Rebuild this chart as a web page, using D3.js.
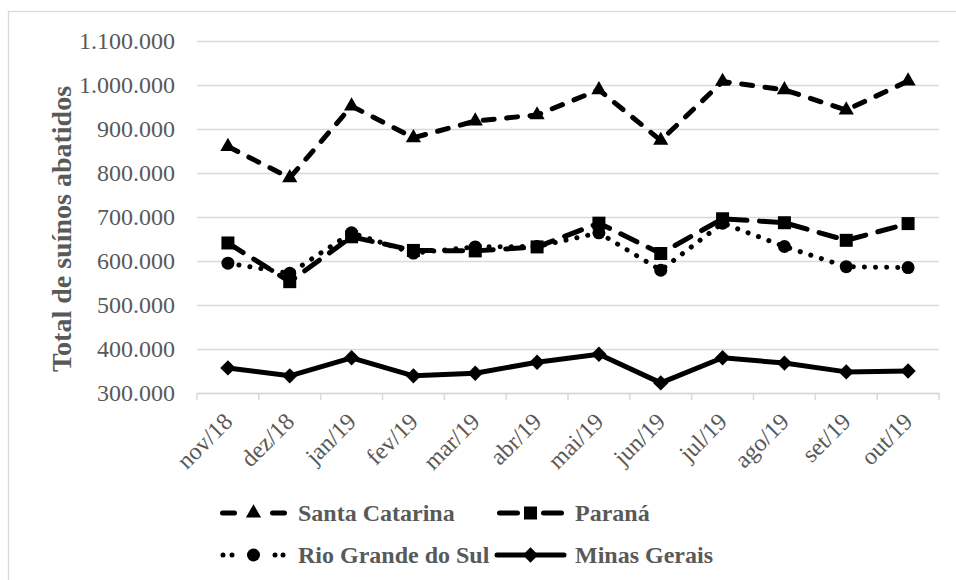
<!DOCTYPE html>
<html>
<head>
<meta charset="utf-8">
<script src="https://cdn.jsdelivr.net/npm/d3@7"></script>
<style>
  html, body { margin: 0; padding: 0; background: #fff; }
  svg { display: block; }
</style>
</head>
<body>
<svg id="chart" width="956" height="580"></svg>
<script>
// Monthly pig slaughter by state (head)
const months = ["nov/18", "dez/18", "jan/19", "fev/19", "mar/19", "abr/19",
                "mai/19", "jun/19", "jul/19", "ago/19", "set/19", "out/19"];

const santaCatarina = [860000, 789000, 952000, 880000, 918000, 932000,
                       989000, 874000, 1008000, 989000, 943000, 1009000];
const parana        = [641000, 553000, 655000, 624000, 623000, 632000,
                       686000, 617000, 696000, 687000, 647000, 685000];
const rioGrande     = [595000, 572000, 664000, 618000, 632000, 633000,
                       664000, 579000, 686000, 633000, 587000, 585000];
const minasGerais   = [357000, 339000, 380000, 339000, 345000, 370000,
                       388000, 323000, 380000, 368000, 348000, 350000];

const yTicks = [300000, 400000, 500000, 600000, 700000, 800000, 900000, 1000000, 1100000];
const yTitle = "Total de suínos abatidos";

const serifFont = "'Liberation Serif', Tinos, 'Times New Roman', Times, 'Nimbus Roman', 'Nimbus Roman No9 L', 'Noto Serif', FreeSerif, 'DejaVu Serif', serif";

// Rotated-square marker
const diamondSquare = {
  draw(ctx, size) {
    const r = Math.sqrt(size / 2);
    ctx.moveTo(0, -r); ctx.lineTo(r, 0); ctx.lineTo(0, r); ctx.lineTo(-r, 0); ctx.closePath();
  }
};

const series = [
  { name: "Santa Catarina",    values: santaCatarina, dash: "11,12.5", legendDash: "12,38,12,200", legendFrom: 2.5,
    symbol: d3.symbolTriangle, size: 100 },
  { name: "Paraná",            values: parana,        dash: "18,12.5", legendDash: "18,26,18,200", legendFrom: 2.5,
    symbol: d3.symbolSquare,   size: 169 },
  { name: "Rio Grande do Sul", values: rioGrande,     dash: "0.1,11",  legendDash: "0.01,9,0.01,43,0.01,8,0.01,200", legendFrom: 3,
    symbol: d3.symbolCircle,   size: 133 },
  { name: "Minas Gerais",      values: minasGerais,   dash: null,      legendDash: null, legendFrom: 0,
    symbol: diamondSquare,     size: 118 }
];

const svg = d3.select("#chart");
const plot = { left: 197, right: 939, top: 41, bottom: 393 };
const grey = "#595959";
const gridColor = "#d9d9d9";

// Outer chart frame
svg.append("rect")
  .attr("x", 8.5).attr("y", 11.5)
  .attr("width", 1000).attr("height", 700)
  .attr("fill", "#fff").attr("stroke", gridColor).attr("stroke-width", 1.3);

const x = d3.scaleBand().domain(months).range([plot.left, plot.right]).padding(0);
const y = d3.scaleLinear().domain([300000, 1100000]).range([plot.bottom, plot.top]);

const ptBR = d3.formatLocale({ decimal: ",", thousands: ".", grouping: [3], currency: ["R$", ""] });
const fmt = ptBR.format(",d");

// Y axis with horizontal gridlines
const yAxis = svg.append("g")
  .attr("transform", `translate(${plot.left},0)`)
  .call(d3.axisLeft(y).tickValues(yTicks).tickFormat(fmt)
        .tickSize(-(plot.right - plot.left)).tickPadding(22))
  .attr("font-family", serifFont).attr("font-size", 24);
yAxis.select(".domain").remove();
yAxis.selectAll(".tick line").attr("stroke", gridColor).attr("stroke-width", 1.5);
yAxis.selectAll(".tick text").attr("fill", grey);

// X axis: baseline, boundary ticks and rotated labels
const xAxis = svg.append("g")
  .attr("transform", `translate(0,${plot.bottom})`)
  .call(d3.axisBottom(x).tickSize(0).tickPadding(0))
  .attr("font-family", serifFont).attr("font-size", 24);
xAxis.select(".domain").attr("stroke", gridColor).attr("stroke-width", 1.5);
xAxis.selectAll(".tick text")
  .attr("fill", grey)
  .attr("text-anchor", "end")
  .attr("dy", null).attr("y", null)
  .attr("transform", "translate(6,30) rotate(-45)");

const bounds = months.map(m => x(m)).concat([x(months[months.length - 1]) + x.bandwidth()]);
xAxis.selectAll(".bound").data(bounds).join("line")
  .attr("class", "bound")
  .attr("x1", d => d).attr("x2", d => d)
  .attr("y1", 0).attr("y2", 7)
  .attr("stroke", gridColor).attr("stroke-width", 1.5);

// Y axis title
svg.append("text")
  .attr("transform", `translate(71,${(plot.top + plot.bottom) / 2 + 12}) rotate(-90)`)
  .attr("text-anchor", "middle")
  .attr("fill", grey)
  .attr("font-family", serifFont)
  .attr("font-size", 28).attr("font-weight", "bold")
  .text(yTitle);

const cx = m => x(m) + x.bandwidth() / 2;
const line = d3.line().x((d, i) => cx(months[i])).y(d => y(d));

const lines = svg.append("g");
series.forEach(s => {
  const g = lines.append("g");
  g.append("path")
    .datum(s.values)
    .attr("d", line)
    .attr("fill", "none")
    .attr("stroke", "#000")
    .attr("stroke-width", 5)
    .attr("stroke-linecap", "round")
    .attr("stroke-linejoin", "round")
    .attr("stroke-dasharray", s.dash);
  g.selectAll("path.mk").data(s.values).join("path")
    .attr("class", "mk")
    .attr("transform", (d, i) => `translate(${cx(months[i])},${y(d)})`)
    .attr("d", d3.symbol().type(s.symbol).size(s.size))
    .attr("fill", "#000");
});

// Legend, two columns by two rows
const legendCols = [220, 497];
const legendRows = [513, 555];
const symW = 67;
const legend = svg.append("g");
series.forEach((s, i) => {
  const lx = legendCols[i % 2];
  const ly = legendRows[Math.floor(i / 2)];
  const g = legend.append("g").attr("transform", `translate(${lx},${ly})`);
  g.append("line")
    .attr("x1", s.legendFrom).attr("x2", symW).attr("y1", 0).attr("y2", 0)
    .attr("stroke", "#000").attr("stroke-width", 5)
    .attr("stroke-linecap", "round")
    .attr("stroke-dasharray", s.legendDash);
  g.append("path")
    .attr("transform", `translate(${symW / 2},0)`)
    .attr("d", d3.symbol().type(s.symbol).size(s.size))
    .attr("fill", "#000");
  g.append("text")
    .attr("x", symW + 11).attr("y", 0).attr("dy", "0.35em")
    .attr("fill", grey)
    .attr("font-family", serifFont)
    .attr("font-size", 24).attr("font-weight", "bold")
    .text(s.name);
});
</script>
</body>
</html>
